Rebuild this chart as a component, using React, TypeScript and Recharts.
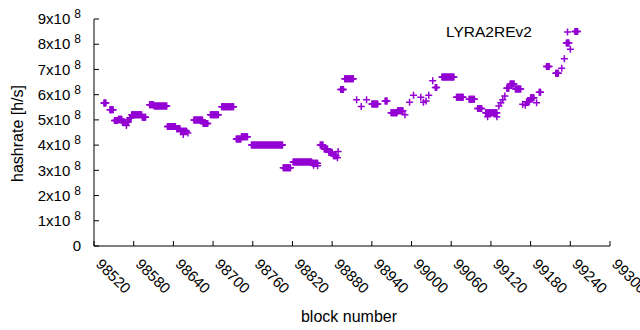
import { ScatterChart, Scatter, XAxis, YAxis, Legend } from "recharts";

// runs of blocks sharing one hashrate reading (x 1e8 h/s)
const segStart = [
  98535, 98544, 98551, 98557, 98563, 98569, 98570, 98574, 98577, 98593,
  98604, 98611, 98631, 98645, 98651, 98655, 98662, 98671, 98685, 98696,
  98713, 98735, 98743, 98758, 98806, 98821, 98850, 98852, 98858, 98862,
  98868, 98875, 98882, 98888, 98889, 98893, 98899, 98917, 98924, 98932,
  98940, 98960, 98969, 98979, 98990, 98997, 99003, 99014, 99018, 99022,
  99026, 99032, 99036, 99046, 99068, 99087, 99100, 99112, 99115, 99129,
  99132, 99135, 99138, 99141, 99144, 99149, 99157, 99168, 99172, 99174,
  99180, 99189, 99193, 99204, 99218, 99227, 99231, 99234, 99240, 99247,
];
const segEnd = [
  98538, 98549, 98556, 98562, 98568, 98569, 98572, 98576, 98592, 98598,
  98610, 98630, 98643, 98650, 98660, 98655, 98662, 98684, 98692, 98708,
  98731, 98742, 98752, 98805, 98817, 98849, 98858, 98852, 98858, 98866,
  98873, 98880, 98886, 98888, 98889, 98897, 98912, 98917, 98924, 98932,
  98949, 98963, 98978, 98987, 98990, 98997, 99003, 99014, 99018, 99022,
  99026, 99032, 99038, 99064, 99078, 99095, 99106, 99129, 99115, 99129,
  99132, 99135, 99138, 99141, 99147, 99155, 99165, 99168, 99172, 99178,
  99185, 99189, 99195, 99208, 99222, 99227, 99231, 99238, 99240, 99251,
];
const segRate = [
  5.67, 5.4, 4.98, 5.03, 4.9, 4.78, 4.92, 5.08, 5.2, 5.1,
  5.6, 5.55, 4.74, 4.65, 4.55, 4.42, 4.48, 5.0, 4.86, 5.2,
  5.52, 4.24, 4.33, 4.0, 3.1, 3.33, 3.28, 3.2, 3.18, 4.0,
  3.85, 3.72, 3.58, 3.5, 3.75, 6.2, 6.63, 5.8, 5.53, 5.8,
  5.63, 5.75, 5.28, 5.36, 5.2, 5.7, 5.98, 5.9, 5.7, 5.75,
  5.98, 6.55, 6.28, 6.7, 5.9, 5.82, 5.45, 5.28, 5.12, 5.12,
  5.55, 5.68, 5.8, 5.95, 6.25, 6.42, 6.22, 5.62, 5.58, 5.72,
  5.88, 5.68, 6.1, 7.12, 6.85, 7.05, 7.42, 8.05, 7.8, 8.5,
];

const xTicks = [
  98520, 98580, 98640, 98700, 98760, 98820, 98880, 98940, 99000, 99060,
  99120, 99180, 99240, 99300,
];
const yTicks = [0, 1e8, 2e8, 3e8, 4e8, 5e8, 6e8, 7e8, 8e8, 9e8];
const seriesName = "LYRA2REv2";

const points = segStart.flatMap((s, i) =>
  Array.from({ length: segEnd[i] - s + 1 }, (_, k) => ({
    block: s + k,
    rate: segRate[i] * 1e8,
  }))
);

const PURPLE = "#9400d3";
const FONT = "'Liberation Sans', Arial, sans-serif";

const Cross = ({ cx, cy }: any) => (
  <path
    d={`M${cx - 3.5},${cy}H${cx + 3.5}M${cx},${cy - 3.5}V${cy + 3.5}`}
    stroke={PURPLE}
    strokeWidth={1.5}
    fill="none"
  />
);

const XTick = ({ x, y, payload }: any) => (
  <g>
    <line x1={x} y1={y} x2={x} y2={y - 5} stroke="#000" />
    <text
      x={x + 1}
      y={y + 19}
      transform={`rotate(45, ${x + 1}, ${y + 19})`}
      textAnchor="start"
      fontSize={15}
      fontFamily={FONT}
      fill="#000"
    >
      {payload.value}
    </text>
  </g>
);

const TopTick = ({ x, y }: any) => (
  <line x1={x} y1={y} x2={x} y2={y + 5} stroke="#000" />
);

const YTick = ({ x, y, payload }: any) => {
  const n = Math.round(payload.value / 1e8);
  return (
    <g>
      <line x1={x} y1={y} x2={x + 5} y2={y} stroke="#000" />
      <text
        x={x - 13}
        y={y}
        dy="0.35em"
        textAnchor="end"
        fontSize={15}
        fontFamily={FONT}
        fill="#000"
      >
        {n === 0 ? (
          "0"
        ) : (
          <>
            <tspan>{`${n}x10`}</tspan>
            <tspan dx={4} dy={-6} fontSize={12}>
              8
            </tspan>
          </>
        )}
      </text>
    </g>
  );
};

const RightTick = ({ x, y }: any) => (
  <line x1={x} y1={y} x2={x - 5} y2={y} stroke="#000" />
);

const XTitle = ({ viewBox }: any) => (
  <text
    x={viewBox.x + viewBox.width / 2 - 3}
    y={viewBox.y + 70}
    dy="0.35em"
    textAnchor="middle"
    fontSize={16}
    fontFamily={FONT}
    fill="#000"
  >
    block number
  </text>
);

const YTitle = ({ viewBox }: any) => {
  const cx = 17;
  const cy = viewBox.y + viewBox.height / 2 + 1;
  return (
    <text
      x={cx}
      y={cy}
      dy="0.35em"
      transform={`rotate(-90, ${cx}, ${cy})`}
      textAnchor="middle"
      fontSize={16}
      fontFamily={FONT}
      fill="#000"
    >
      hashrate [h/s]
    </text>
  );
};

const Key = () => (
  <svg width={140} height={20} style={{ display: "block", overflow: "visible" }}>
    <text
      x={0}
      y={10}
      dy="0.35em"
      fontSize={15.5}
      fontFamily={FONT}
      fill="#000"
    >
      {seriesName}
    </text>
    <path
      d="M118,10H125M121.5,6.5V13.5"
      stroke={PURPLE}
      strokeWidth={1.5}
      fill="none"
    />
  </svg>
);

export default function App() {
  return (
    <div
      style={{
        position: "absolute",
        left: 0,
        top: 0,
        width: 640,
        height: 330,
        background: "#fff",
      }}
    >
      <ScatterChart
        width={640}
        height={330}
        margin={{ top: 19, right: 30, bottom: 0, left: 0 }}
      >
        <XAxis
          xAxisId="bottom"
          dataKey="block"
          type="number"
          domain={[98520, 99300]}
          ticks={xTicks}
          interval={0}
          height={84}
          tickSize={0}
          tickMargin={0}
          tickLine={false}
          axisLine={{ stroke: "#000" }}
          tick={<XTick />}
          label={<XTitle />}
          allowDataOverflow
        />
        <XAxis
          xAxisId="top"
          orientation="top"
          type="number"
          domain={[98520, 99300]}
          ticks={xTicks}
          interval={0}
          height={0}
          tickSize={0}
          tickMargin={0}
          tickLine={false}
          axisLine={{ stroke: "#000" }}
          tick={<TopTick />}
          allowDataOverflow
        />
        <YAxis
          yAxisId="left"
          dataKey="rate"
          type="number"
          domain={[0, 9e8]}
          ticks={yTicks}
          interval={0}
          width={94}
          tickSize={0}
          tickMargin={0}
          tickLine={false}
          axisLine={{ stroke: "#000" }}
          tick={<YTick />}
          label={<YTitle />}
          allowDataOverflow
        />
        <YAxis
          yAxisId="right"
          orientation="right"
          type="number"
          domain={[0, 9e8]}
          ticks={yTicks}
          interval={0}
          width={0}
          tickSize={0}
          tickMargin={0}
          tickLine={false}
          axisLine={{ stroke: "#000" }}
          tick={<RightTick />}
          allowDataOverflow
        />
        <Legend
          layout="horizontal"
          verticalAlign="middle"
          align="center"
          wrapperStyle={{ left: 446, top: 22, width: 140, height: 20 }}
          content={<Key />}
        />
        <Scatter
          xAxisId="bottom"
          yAxisId="left"
          name={seriesName}
          data={points}
          shape={(p: any) => <Cross {...p} />}
          isAnimationActive={false}
        />
      </ScatterChart>
    </div>
  );
}
